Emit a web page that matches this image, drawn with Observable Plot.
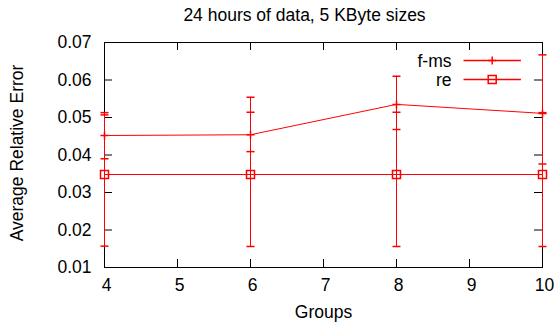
<!DOCTYPE html>
<html><head><meta charset="utf-8">
<script src="https://cdn.jsdelivr.net/npm/d3@7"></script>
<script src="https://cdn.jsdelivr.net/npm/@observablehq/plot@0.6"></script>
<style>body{margin:0;background:#fff} svg{display:block}</style>
</head><body><div id="chart"></div>
<script>
const titleText = "24 hours of data, 5 KByte sizes";
const xLabel = "Groups";
const yLabel = "Average Relative Error";
const seriesNames = ["f-ms", "re"];
const groups = [4, 6, 8, 10];
const fmsValues = [0.0452, 0.0454, 0.0535, 0.0511];
const fmsLow = [0.0390, 0.0409, 0.0468, 0.0376];
const fmsHigh = [0.0513, 0.0554, 0.0610, 0.0667];
const reValues = [0.0348, 0.0348, 0.0348, 0.0348];
const reLow = [0.0157, 0.0156, 0.0156, 0.0156];
const reHigh = [0.0507, 0.0514, 0.0514, 0.0513];
const xTicks = [4, 5, 6, 7, 8, 9, 10];
const yTicks = [0.01, 0.02, 0.03, 0.04, 0.05, 0.06, 0.07];

const fms = groups.map((g, i) => ({x: g, y: fmsValues[i], lo: fmsLow[i], hi: fmsHigh[i]}));
const re = groups.map((g, i) => ({x: g, y: reValues[i], lo: reLow[i], hi: reHigh[i]}));

const W = 555, H = 329, ML = 104, MR = 13, MT = 42, MB = 62;
const PW = W - ML - MR, PH = H - MT - MB, TK = 8;
const RED = "#ff0000";

const rad = s => Math.sqrt(s / Math.PI);
const capSym = {draw(c, s) { const r = rad(s); c.moveTo(-r, 0); c.lineTo(r, 0); }};
const plusSym = {draw(c, s) { const r = rad(s); c.moveTo(-r, 0); c.lineTo(r, 0); c.moveTo(0, -r); c.lineTo(0, r); }};
const squareSym = {draw(c, s) { const r = rad(s); c.rect(-r, -r, 2 * r, 2 * r); }};

function seriesMarks(data, sym) {
  return [
    Plot.ruleX(data, {x: "x", y1: "lo", y2: "hi", stroke: RED, strokeWidth: 1}),
    Plot.dot(data, {x: "x", y: "lo", symbol: capSym, r: 4, stroke: RED, fill: "none"}),
    Plot.dot(data, {x: "x", y: "hi", symbol: capSym, r: 4, stroke: RED, fill: "none"}),
    Plot.line(data, {x: "x", y: "y", stroke: RED, strokeWidth: 1}),
    Plot.dot(data, {x: "x", y: "y", symbol: sym, r: 4, stroke: RED, fill: "none"})
  ];
}

function legendMarks(name, sym, dy) {
  return [
    Plot.text([name], {frameAnchor: "top-right", textAnchor: "end", lineAnchor: "middle", dx: -91, dy: dy + 0.5, fill: "black"}),
    Plot.dot([0], {frameAnchor: "top-right", dx: -50.3, dy: dy, symbol: capSym, r: 28.7, stroke: RED, fill: "none"}),
    Plot.dot([0], {frameAnchor: "top-right", dx: -50.3, dy: dy, symbol: sym, r: 4, stroke: RED, fill: "none"})
  ];
}

const chart = Plot.plot({
  width: W, height: H,
  marginLeft: ML, marginRight: MR, marginTop: MT, marginBottom: MB,
  style: {fontSize: "17.5px", fontFamily: "'Liberation Sans', Arial, sans-serif", background: "white", color: "black"},
  x: {domain: [4, 10]},
  y: {domain: [0.01, 0.07]},
  marks: [
    Plot.frame({stroke: "black"}),
    Plot.tickY(yTicks, {y: d => d, stroke: "black", insetRight: PW - TK}),
    Plot.tickY(yTicks, {y: d => d, stroke: "black", insetLeft: PW - TK}),
    Plot.tickX(xTicks, {x: d => d, stroke: "black", insetTop: PH - TK}),
    Plot.tickX(xTicks, {x: d => d, stroke: "black", insetBottom: PH - TK}),
    Plot.axisY({ticks: yTicks, tickSize: 0, tickPadding: 13, tickFormat: d3.format(".2f"), label: null}),
    Plot.axisX({ticks: xTicks, tickSize: 0, tickPadding: 11, dx: 2, tickFormat: d3.format("d"), label: null}),
    ...seriesMarks(fms, plusSym),
    ...seriesMarks(re, squareSym),
    ...legendMarks(seriesNames[0], plusSym, 18),
    ...legendMarks(seriesNames[1], squareSym, 37),
    Plot.text([titleText], {frameAnchor: "top", lineAnchor: "middle", dx: -19, dy: -27, fill: "black"}),
    Plot.text([xLabel], {frameAnchor: "bottom", lineAnchor: "middle", dy: 45, fill: "black"}),
    Plot.text([yLabel], {frameAnchor: "left", textAnchor: "middle", lineAnchor: "middle", rotate: -90, dx: -87, dy: -2, fill: "black"})
  ]
});
document.getElementById("chart").appendChild(chart);
</script>
</body></html>
